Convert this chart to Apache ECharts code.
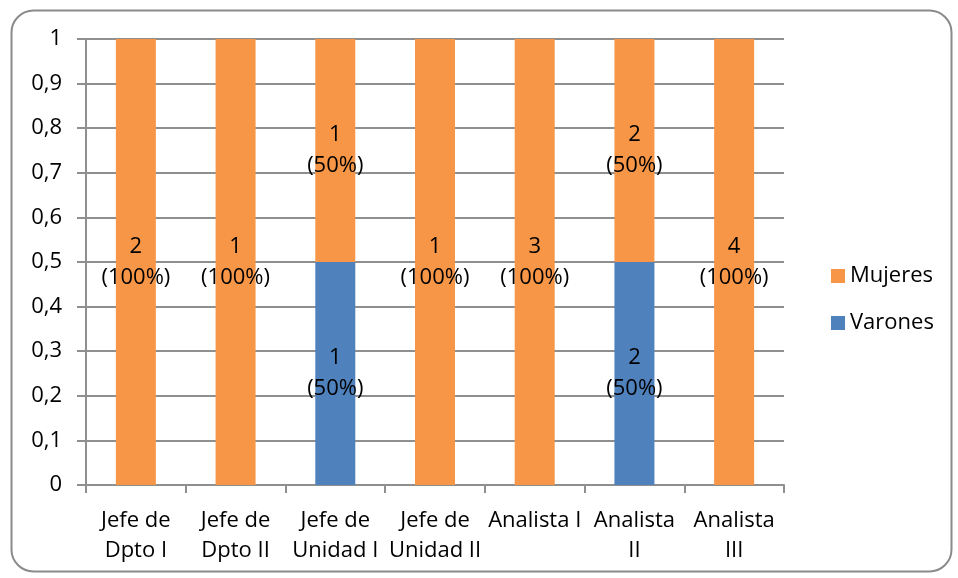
<!DOCTYPE html>
<html>
<head>
<meta charset="utf-8">
<script src="https://cdn.jsdelivr.net/npm/echarts@6/dist/echarts.min.js"></script>
<style>
  html, body { margin: 0; padding: 0; background: #fff; }
  #chart { width: 958px; height: 578px; }
</style>
</head>
<body>
<div id="chart"></div>
<script>
// Cargos (categorías del eje X)
const categories = [
  'Jefe de\nDpto I', 'Jefe de\nDpto II', 'Jefe de\nUnidad I', 'Jefe de\nUnidad II',
  'Analista I', 'Analista\nII', 'Analista\nIII'
];
// Cantidad de personas por cargo
const mujeresCount = [2, 1, 1, 1, 3, 2, 4];
const varonesCount = [0, 0, 1, 0, 0, 2, 0];
// Proporción dentro de cada cargo (apilado al 100%)
const mujeresShare = [1, 1, 0.5, 1, 1, 0.5, 1];
const varonesShare = [0, 0, 0.5, 0, 0, 0.5, 0];
// Marcas del eje Y
const yTicks = [0, 0.1, 0.2, 0.3, 0.4, 0.5, 0.6, 0.7, 0.8, 0.9, 1];

const FONT = 'Open Sans';
const FS = 22;
const gridColor = '#8f8f8f';

function labelFor(counts) {
  return {
    show: true,
    position: 'inside',
    color: '#000',
    fontFamily: FONT,
    fontSize: FS,
    lineHeight: 31,
    formatter: p => {
      const v = p.value;
      if (!v) return '';
      return counts[p.dataIndex] + '\n(' + Math.round(v * 100) + '%)';
    }
  };
}

const chart = echarts.init(document.getElementById('chart'), null, { renderer: 'canvas' });
chart.setOption({
  animation: false,
  backgroundColor: '#fff',
  grid: { left: 86, right: 174, top: 39, bottom: 93, containLabel: false },
  legend: {
    orient: 'vertical',
    left: 826,
    top: 260,
    itemWidth: 14,
    itemHeight: 14,
    itemGap: 25,
    icon: 'rect',
    data: ['Mujeres', 'Varones'],
    textStyle: { fontFamily: FONT, fontSize: FS, color: '#000' }
  },
  xAxis: {
    type: 'category',
    data: categories,
    axisLine: { show: true, lineStyle: { color: gridColor, width: 2 } },
    axisTick: { show: true, length: 8, lineStyle: { color: gridColor, width: 2 } },
    axisLabel: {
      fontFamily: FONT, fontSize: FS, color: '#000', lineHeight: 30, margin: 21,
      interval: 0
    }
  },
  yAxis: {
    type: 'value',
    min: 0,
    max: 1,
    interval: 0.1,
    axisLine: { show: true, lineStyle: { color: gridColor, width: 2 } },
    axisTick: { show: true, length: 9, lineStyle: { color: gridColor, width: 2 } },
    splitLine: { show: true, lineStyle: { color: gridColor, width: 2 } },
    axisLabel: {
      fontFamily: FONT, fontSize: FS, color: '#000', margin: 24,
      formatter: v => {
        const t = yTicks.find(x => Math.abs(x - v) < 1e-9);
        return String(t !== undefined ? t : v).replace('.', ',');
      }
    }
  },
  series: [
    {
      name: 'Varones',
      type: 'bar',
      stack: 'total',
      barWidth: 40,
      itemStyle: { color: '#4F81BD' },
      label: labelFor(varonesCount),
      data: varonesShare
    },
    {
      name: 'Mujeres',
      type: 'bar',
      stack: 'total',
      barWidth: 40,
      itemStyle: { color: '#F79646' },
      label: labelFor(mujeresCount),
      data: mujeresShare
    }
  ],
  graphic: [{
    type: 'rect',
    left: 9, top: 8,
    shape: { width: 940, height: 561, r: 22 },
    style: { fill: 'none', stroke: '#8a8a8a', lineWidth: 2 },
    silent: true,
    z: 100
  }]
});
</script>
</body>
</html>
